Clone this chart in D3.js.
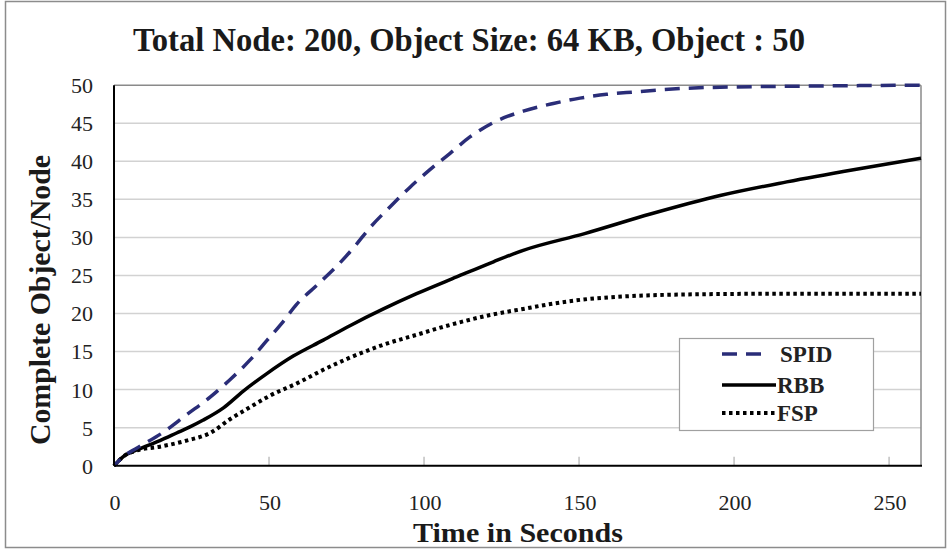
<!DOCTYPE html>
<html><head><meta charset="utf-8">
<script src="https://cdn.jsdelivr.net/npm/d3@7"></script>
<style>body{margin:0;background:#fff}svg{display:block}</style>
</head><body>
<svg id="c" width="948" height="550"></svg>
<script>
const title = "Total Node: 200, Object Size: 64 KB, Object : 50";
const xTitle = "Time in Seconds";
const yTitle = "Complete Object/Node";
const xTicks = [0, 50, 100, 150, 200, 250];
const yTicks = [0, 5, 10, 15, 20, 25, 30, 35, 40, 45, 50];
const seriesNames = ["SPID", "RBB", "FSP"];

const spidT = [0, 3, 7.3, 15.9, 23.4, 31, 37.4, 43.9, 49.2, 54.1, 58.9, 65.4, 71.8, 77.2, 82.6, 89, 95.5, 101.9, 108.4, 114.8, 122.4, 132, 141.7, 150.3, 158.9, 167.5, 184.7, 206.2, 227.7, 260.3];
const spidV = [0, 1.2, 2.3, 4.4, 6.7, 9.0, 11.3, 13.9, 16.4, 18.7, 21.2, 23.7, 26.2, 28.6, 31.3, 34.0, 36.6, 38.9, 41.05, 43.2, 45.1, 46.6, 47.6, 48.3, 48.8, 49.1, 49.6, 49.8, 49.9, 50];
const rbbT = [0, 3, 7.3, 14.8, 20.2, 24.5, 28.8, 35.3, 41.7, 49.3, 57.8, 67.5, 76.1, 86.9, 97.6, 110.5, 122.4, 132, 151.8, 173.3, 195.5, 217, 238.5, 260.3];
const rbbV = [0, 1.2, 2.06, 3.3, 4.3, 5.1, 6.0, 7.6, 9.8, 12.1, 14.4, 16.5, 18.4, 20.6, 22.6, 24.8, 26.8, 28.3, 30.5, 33.1, 35.5, 37.3, 38.9, 40.4];
const fspT = [0, 3, 7.3, 14.8, 23.4, 31, 37.4, 43.9, 50.3, 58.9, 67.5, 76.1, 86.9, 97.6, 108.4, 121.3, 132, 141.7, 152.8, 162.6, 184.1, 217, 260.3];
const fspV = [0, 1.2, 2.0, 2.5, 3.3, 4.3, 6.1, 7.7, 9.2, 10.8, 12.6, 14.2, 15.9, 17.2, 18.5, 19.8, 20.6, 21.3, 21.9, 22.2, 22.5, 22.6, 22.6];

const svg = d3.select("#c");
const L = 114, R = 921, T = 85.2, B = 465.7;
const x = d3.scaleLinear().domain([0, 260.3]).range([L, R]);
const y = d3.scaleLinear().domain([0, 50]).range([B, T]);

// outer frame
svg.append("rect").attr("x", 5.5).attr("y", 1.5).attr("width", 940).attr("height", 546)
  .attr("fill", "none").attr("stroke", "#8c8c8c").attr("stroke-width", 1.5);

// gridlines
svg.append("g").selectAll("line").data(yTicks.filter(d => d > 0 && d < 50)).join("line")
  .attr("x1", L).attr("x2", R).attr("y1", d => y(d)).attr("y2", d => y(d))
  .attr("stroke", "#d2d2d2").attr("stroke-width", 1.5);
// top and right borders
svg.append("line").attr("x1", L).attr("x2", R).attr("y1", y(50)).attr("y2", y(50)).attr("stroke", "#8a8a8a").attr("stroke-width", 1.5);
svg.append("line").attr("x1", R).attr("x2", R).attr("y1", T).attr("y2", B).attr("stroke", "#8a8a8a").attr("stroke-width", 1.5);

// x axis inner ticks
svg.append("g").selectAll("line").data(xTicks.filter(d => d > 0)).join("line")
  .attr("x1", d => x(d)).attr("x2", d => x(d)).attr("y1", B).attr("y2", B - 9)
  .attr("stroke", "#b0b0b0").attr("stroke-width", 1.2);

const serif = "'Liberation Serif','DejaVu Serif',serif";

// y tick labels
svg.append("g").selectAll("text").data(yTicks).join("text")
  .attr("x", 93).attr("y", d => y(d)).attr("dy", "0.36em").attr("text-anchor", "end")
  .attr("font-family", serif).attr("font-size", 22).attr("fill", "#222").text(d => d);
// x tick labels
svg.append("g").selectAll("text").data(xTicks).join("text")
  .attr("x", d => x(d) + 1).attr("y", 510).attr("text-anchor", "middle")
  .attr("font-family", serif).attr("font-size", 22).attr("fill", "#222").text(d => d);

// lines
const line = d3.line().x(d => x(d[0])).y(d => y(d[1])).curve(d3.curveMonotoneX);
const zipped = (t, v) => t.map((d, i) => [d, v[i]]);
const g = svg.append("g");
g.append("path").datum(zipped(fspT, fspV)).attr("d", line).attr("fill", "none")
  .attr("stroke", "#000").attr("stroke-width", 4).attr("stroke-dasharray", "3.5,3.5");
g.append("path").datum(zipped(rbbT, rbbV)).attr("d", line).attr("fill", "none")
  .attr("stroke", "#000").attr("stroke-width", 3.5);
g.append("path").datum(zipped(spidT, spidV)).attr("d", line).attr("fill", "none")
  .attr("stroke", "#2a2d78").attr("stroke-width", 3.5).attr("stroke-dasharray", "15,9").attr("stroke-dashoffset", -18);

// axes
svg.append("line").attr("x1", L).attr("x2", L).attr("y1", T).attr("y2", B).attr("stroke", "#000").attr("stroke-width", 2);
svg.append("line").attr("x1", L).attr("x2", R + 1).attr("y1", B).attr("y2", B).attr("stroke", "#000").attr("stroke-width", 2);

// legend
svg.append("rect").attr("x", 679.5).attr("y", 338.5).attr("width", 194).attr("height", 92)
  .attr("fill", "#fff").attr("stroke", "#a0a0a0").attr("stroke-width", 1.2);
const legStyles = [
  {stroke: "#2a2d78", dash: "15,9", w: 3.5, x1: 722, x2: 767},
  {stroke: "#000", dash: null, w: 3.5, x1: 722, x2: 776},
  {stroke: "#000", dash: "3.5,3.5", w: 4, x1: 722, x2: 776}
];
const legY = [354, 385, 413];
seriesNames.forEach((n, i) => {
  const s = legStyles[i];
  svg.append("line").attr("x1", s.x1).attr("x2", s.x2).attr("y1", legY[i]).attr("y2", legY[i])
    .attr("stroke", s.stroke).attr("stroke-width", s.w).attr("stroke-dasharray", s.dash);
  svg.append("text").attr("x", i === 0 ? 780 : 777).attr("y", legY[i] + 8)
    .attr("font-family", serif).attr("font-weight", "bold").attr("font-size", 23).attr("fill", "#222").text(n);
});

// titles
svg.append("text").attr("x", 469).attr("y", 51).attr("text-anchor", "middle")
  .attr("font-family", serif).attr("font-weight", "bold").attr("font-size", 33).attr("fill", "#1a1a1a")
  .attr("textLength", 672).attr("lengthAdjust", "spacingAndGlyphs").text(title);
svg.append("text").attr("x", 518).attr("y", 542).attr("text-anchor", "middle")
  .attr("font-family", serif).attr("font-weight", "bold").attr("font-size", 28).attr("fill", "#1a1a1a")
  .attr("textLength", 210).attr("lengthAdjust", "spacingAndGlyphs").text(xTitle);
svg.append("text").attr("transform", "translate(50,300) rotate(-90)").attr("text-anchor", "middle")
  .attr("font-family", serif).attr("font-weight", "bold").attr("font-size", 30).attr("fill", "#1a1a1a")
  .attr("textLength", 290).attr("lengthAdjust", "spacingAndGlyphs").text(yTitle);
</script>
</body></html>
